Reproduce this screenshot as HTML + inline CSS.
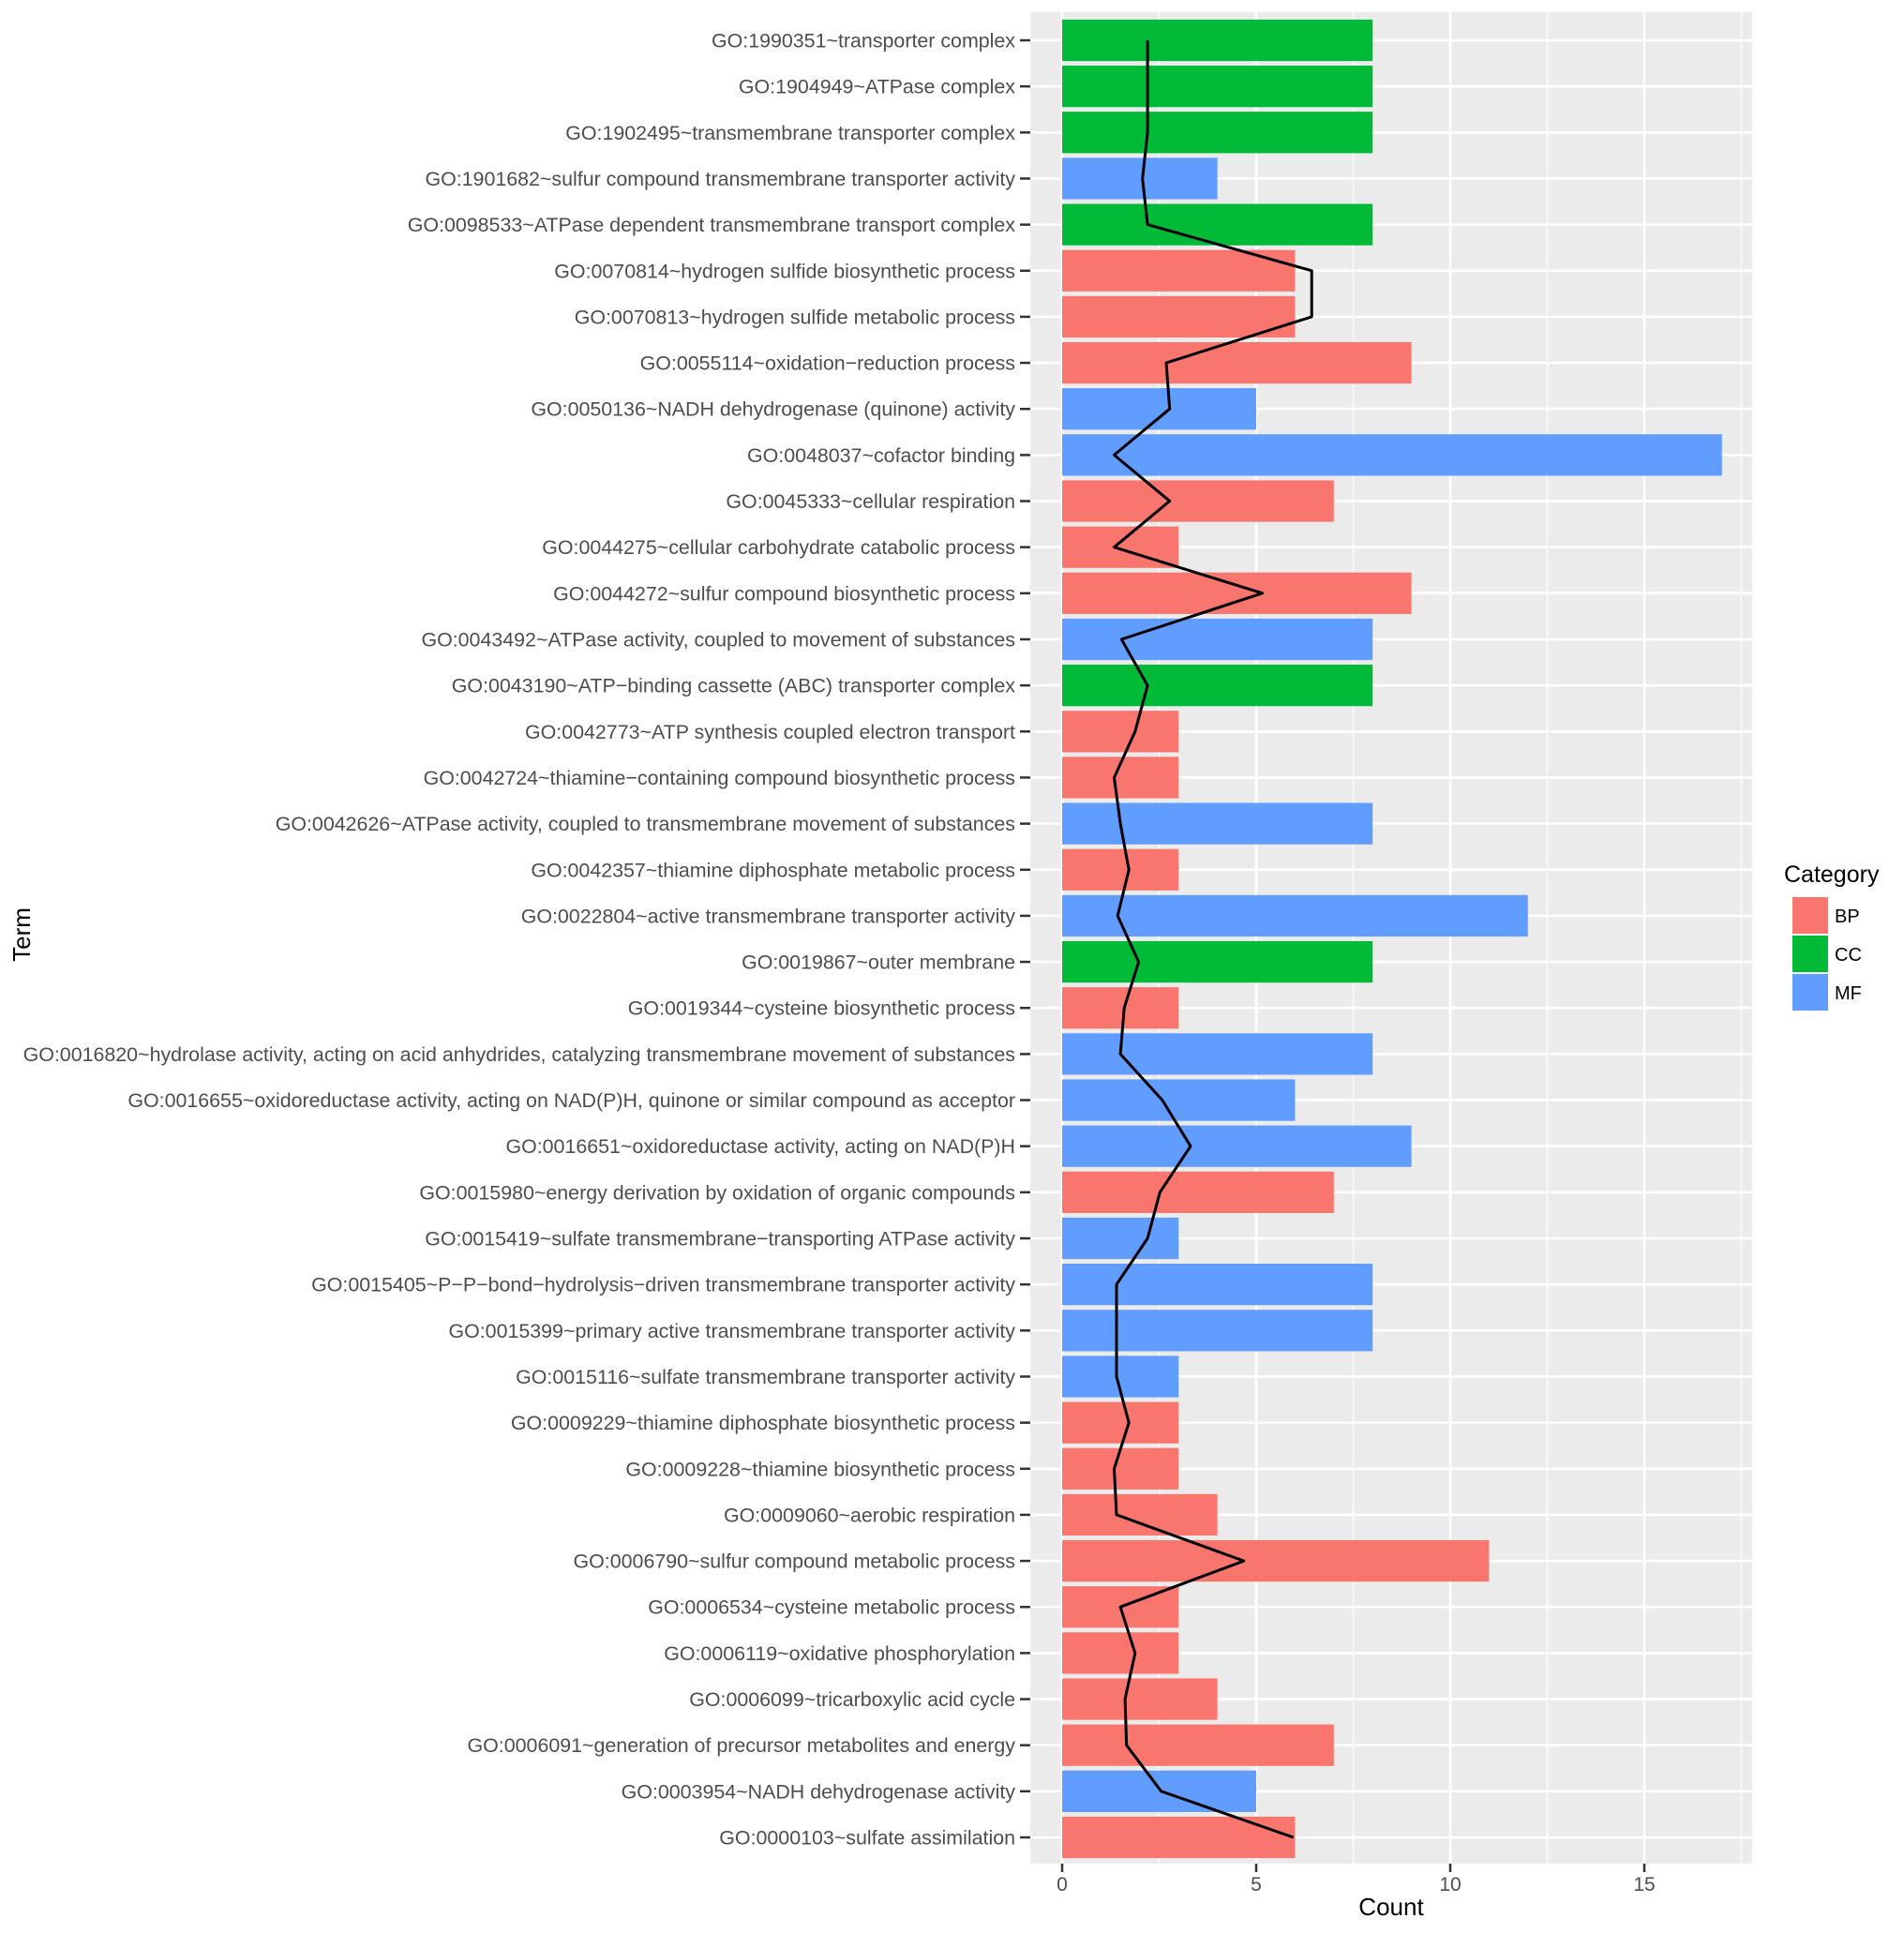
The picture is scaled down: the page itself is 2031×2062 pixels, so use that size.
<!DOCTYPE html>
<html><head><meta charset="utf-8"><style>
html,body{margin:0;padding:0;background:#fff;}
svg{display:block;font-family:"Liberation Sans",Arial,sans-serif;}
</style></head><body>
<svg id="chart" width="2031" height="2062" viewBox="0 0 2031 2062" xmlns="http://www.w3.org/2000/svg"></svg>
<script>
const terms=["GO:1990351~transporter complex","GO:1904949~ATPase complex","GO:1902495~transmembrane transporter complex","GO:1901682~sulfur compound transmembrane transporter activity","GO:0098533~ATPase dependent transmembrane transport complex","GO:0070814~hydrogen sulfide biosynthetic process","GO:0070813~hydrogen sulfide metabolic process","GO:0055114~oxidation\u2212reduction process","GO:0050136~NADH dehydrogenase (quinone) activity","GO:0048037~cofactor binding","GO:0045333~cellular respiration","GO:0044275~cellular carbohydrate catabolic process","GO:0044272~sulfur compound biosynthetic process","GO:0043492~ATPase activity, coupled to movement of substances","GO:0043190~ATP\u2212binding cassette (ABC) transporter complex","GO:0042773~ATP synthesis coupled electron transport","GO:0042724~thiamine\u2212containing compound biosynthetic process","GO:0042626~ATPase activity, coupled to transmembrane movement of substances","GO:0042357~thiamine diphosphate metabolic process","GO:0022804~active transmembrane transporter activity","GO:0019867~outer membrane","GO:0019344~cysteine biosynthetic process","GO:0016820~hydrolase activity, acting on acid anhydrides, catalyzing transmembrane movement of substances","GO:0016655~oxidoreductase activity, acting on NAD(P)H, quinone or similar compound as acceptor","GO:0016651~oxidoreductase activity, acting on NAD(P)H","GO:0015980~energy derivation by oxidation of organic compounds","GO:0015419~sulfate transmembrane\u2212transporting ATPase activity","GO:0015405~P\u2212P\u2212bond\u2212hydrolysis\u2212driven transmembrane transporter activity","GO:0015399~primary active transmembrane transporter activity","GO:0015116~sulfate transmembrane transporter activity","GO:0009229~thiamine diphosphate biosynthetic process","GO:0009228~thiamine biosynthetic process","GO:0009060~aerobic respiration","GO:0006790~sulfur compound metabolic process","GO:0006534~cysteine metabolic process","GO:0006119~oxidative phosphorylation","GO:0006099~tricarboxylic acid cycle","GO:0006091~generation of precursor metabolites and energy","GO:0003954~NADH dehydrogenase activity","GO:0000103~sulfate assimilation"];
const counts=[8,8,8,4,8,6,6,9,5,17,7,3,9,8,8,3,3,8,3,12,8,3,8,6,9,7,3,8,8,3,3,3,4,11,3,3,4,7,5,6];
const cats=["CC","CC","CC","MF","CC","BP","BP","BP","MF","MF","BP","BP","BP","MF","CC","BP","BP","MF","BP","MF","CC","BP","MF","MF","MF","BP","MF","MF","MF","MF","BP","BP","BP","BP","BP","BP","BP","BP","MF","BP"];
const lineVals=[2.2,2.2,2.2,2.07,2.2,6.43,6.43,2.68,2.77,1.34,2.77,1.34,5.16,1.53,2.2,1.88,1.34,1.5,1.72,1.43,1.97,1.6,1.5,2.58,3.31,2.52,2.2,1.4,1.4,1.4,1.72,1.34,1.4,4.68,1.5,1.88,1.62,1.66,2.55,5.96];
const xTicks=[0,5,10,15];
const catNames=["BP","CC","MF"];
const colors={BP:"#F8766D",CC:"#00BA38",MF:"#619CFF"};

const svg=document.getElementById('chart');
const NS="http://www.w3.org/2000/svg";
function mk(tag,attrs,parent){const e=document.createElementNS(NS,tag);for(const k in attrs)e.setAttribute(k,attrs[k]);(parent||svg).appendChild(e);return e;}
const PL=1099,PR=1869,PT=13,PB=1988;
const X0=1133,UNIT=41.4;
function xs(v){return X0+v*UNIT;}
const ROW0=43,ROWS=(1960-43)/39;
function ys(i){return ROW0+i*ROWS;}

const panel=mk('rect',{x:PL,y:PT,width:PR-PL,height:PB-PT,fill:'#EBEBEB'});


[2.5,7.5,12.5,17.5].forEach(v=>{const l=mk('line',{x1:xs(v),x2:xs(v),y1:PT,y2:PB,stroke:'#fff','stroke-width':1.3});

});
xTicks.forEach(v=>{const l=mk('line',{x1:xs(v),x2:xs(v),y1:PT,y2:PB,stroke:'#fff','stroke-width':2.6});

});
terms.forEach((t,i)=>{const l=mk('line',{x1:PL,x2:PR,y1:ys(i),y2:ys(i),stroke:'#fff','stroke-width':2.6});

});
const bh=ROWS*0.9;
terms.forEach((t,i)=>{const b=mk('rect',{x:xs(0),y:ys(i)-bh/2,width:xs(counts[i])-xs(0),height:bh,fill:colors[cats[i]]});


const tx=mk('text',{x:1083,y:ys(i)+7.5,'text-anchor':'end','font-size':21.4,fill:'#4D4D4D'});tx.textContent=t;


const tk=mk('line',{x1:1088,x2:PL,y1:ys(i),y2:ys(i),stroke:'#333','stroke-width':2.5});


});
const pts=lineVals.map((v,i)=>xs(v).toFixed(1)+','+ys(i).toFixed(1)).join(' ');
const pl=mk('polyline',{points:pts,fill:'none',stroke:'#000','stroke-width':3,'stroke-linejoin':'round'});


xTicks.forEach(v=>{const tk=mk('line',{x1:xs(v),x2:xs(v),y1:PB,y2:PB+9,stroke:'#333','stroke-width':2.5});


const tx=mk('text',{x:xs(v),y:2017,'text-anchor':'middle','font-size':21,fill:'#4D4D4D'});tx.textContent=v;

});
const xt=mk('text',{x:(PL+PR)/2,y:2043,'text-anchor':'middle','font-size':26,fill:'#000'});xt.textContent='Count';


const yt=mk('text',{x:0,y:0,'text-anchor':'middle','font-size':26,fill:'#000',transform:'translate(32,997) rotate(-90)'});yt.textContent='Term';


const lt=mk('text',{x:1903,y:941,'font-size':25,fill:'#000'});lt.textContent='Category';


catNames.forEach((c,k)=>{const y=957+k*41;
const r=mk('rect',{x:1912,y:y,width:38,height:39,fill:colors[c]});


const tx=mk('text',{x:1957,y:y+27,'font-size':20,fill:'#000'});tx.textContent=c;

});
</script>
</body></html>
